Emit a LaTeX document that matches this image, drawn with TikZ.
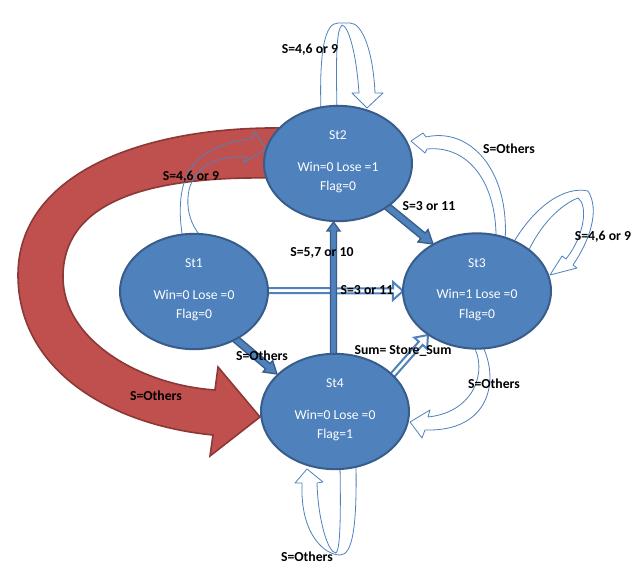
\documentclass[tikz,border=0pt]{standalone}
\usepackage{fontspec}
\setmainfont{Carlito}
\usetikzlibrary{shapes.geometric,calc}
\definecolor{blu}{HTML}{4F81BD}
\definecolor{bludk}{HTML}{385D8A}
\definecolor{redf}{HTML}{C0504D}
\definecolor{reddk}{HTML}{8C3836}
% block arrow: #1 start coord, #2 tip coord, #3 shaft half (px), #4 head half (px), #5 head length (px), #6 style
\newcommand\blockarr[6]{%
  \pgfmathsetlengthmacro\bsh{#3*0.75pt}%
  \pgfmathsetlengthmacro\bhh{#4*0.75pt}%
  \pgfmathsetlengthmacro\bhl{#5*0.75pt}%
  \coordinate (#1h) at ($(#2)!\bhl!(#1)$);
  \draw[#6] ($(#1)!\bsh!90:(#2)$) -- ($(#1h)!\bsh!90:(#2)$) -- ($(#1h)!\bhh!90:(#2)$)
     -- (#2) -- ($(#1h)!\bhh!-90:(#2)$) -- ($(#1h)!\bsh!-90:(#2)$) -- ($(#1)!\bsh!-90:(#2)$) -- cycle;
}
\begin{document}
\begin{tikzpicture}[x=0.75pt,y=-0.75pt,
  stn/.style={ellipse, draw=bludk, line width=1.5pt, fill=blu, minimum width=111pt, minimum height=86.5pt, inner sep=0pt},
  stt/.style={text=white, font=\fontsize{10.2}{12}\selectfont, inner sep=0pt, text height=7pt, text depth=2pt},
  lbl/.style={font=\fontsize{10.3}{12}\selectfont\bfseries, inner sep=0pt, text height=7pt, text depth=2pt},
  lp/.style={draw=blu, line width=0.6pt, line join=round},
  solidarr/.style={fill=blu, draw=bludk, line width=1pt, line join=miter},
  hollowarr/.style={fill=white, draw=blu, line width=1.5pt, line join=miter},
  bigred/.style={fill=redf, draw=reddk, line width=1.2pt, line join=miter}]
\fill[white] (0,0) rectangle (635,573);
\useasboundingbox (0,0) rectangle (635,573);

% big red curved arrow St2 -> St4
\draw[bigred] (285,128) .. controls (140,126) and (18,175) .. (18,275)
  .. controls (18,370) and (110,425) .. (213,435) -- (210,456) -- (260,417) -- (218,367) -- (215,390)
  .. controls (140,385) and (63,340) .. (63,277)
  .. controls (63,205) and (140,176) .. (272,178) -- cycle;

% self / curved hollow loops
% top of St2
\draw[lp] (321,112) .. controls (319,50) and (325,23) .. (338,23) -- (350,23)
  .. controls (362,23) and (373,50) .. (375,93) -- (383,93) -- (367,108) -- (352,93) -- (359,93)
  .. controls (356,50) and (348,26) .. (342,25) .. controls (336,30) and (336,60) .. (337,112);
% St1 -> St2
\draw[lp] (183,240) .. controls (177,205) and (180,175) .. (200,158)
  .. controls (215,146) and (235,140) .. (252,139) -- (255,132) -- (266,149) -- (243,163) -- (247,157)
  .. controls (220,155) and (195,165) .. (189,190) .. controls (184,215) and (195,240) .. (225,255);
% St3 -> St2
\draw[lp] (505,242) .. controls (510,170) and (470,127) .. (426,137) -- (423,133) -- (411,141) -- (425,153) -- (427,149)
  .. controls (470,145) and (497,185) .. (496,240);
% St3 self loop
\draw[lp] (512,245) .. controls (535,205) and (565,186) .. (588,191)
  .. controls (600,210) and (590,240) .. (573,265) -- (577,268) -- (550,275) -- (562,256) -- (566,259)
  .. controls (585,235) and (588,205) .. (578,198) .. controls (560,205) and (540,225) .. (527,254);
% St3 -> St4
\draw[lp] (482,345) .. controls (500,380) and (490,432) .. (425,430) -- (422,438) -- (410,422) -- (430,410) -- (428,417)
  .. controls (475,412) and (488,370) .. (473,345);
% St4 self loop
\draw[lp] (340,465) .. controls (341,520) and (340,550) .. (336,553) .. controls (328,553) and (318,520) .. (317,483)
  -- (323,482) -- (307,469) -- (295,483) -- (302,483)
  .. controls (300,535) and (325,555) .. (340,555) .. controls (352,555) and (357,530) .. (356,465);

% straight block arrows
\coordinate (a13s) at (262,290.5);
\coordinate (a13t) at (403,291);
\blockarr{a13s}{a13t}{2.5}{9}{10}{hollowarr}
\coordinate (a42s) at (333.5,362);
\coordinate (a42t) at (333.5,222);
\blockarr{a42s}{a42t}{3}{6.5}{9}{solidarr}
\coordinate (a14s) at (232,336);
\coordinate (a14t) at (277,374);
\blockarr{a14s}{a14t}{3.5}{7.5}{12}{solidarr}
\coordinate (a23s) at (383,203);
\coordinate (a23t) at (433,244);
\blockarr{a23s}{a23t}{3.5}{8}{13}{solidarr}
\coordinate (a43s) at (390,378);
\coordinate (a43t) at (428,335);
\blockarr{a43s}{a43t}{2.5}{8.5}{11}{hollowarr}

% states
\node[stn] (st1) at (194,291.5) {};
\node[stn] (st2) at (338,163.5) {};
\node[stn] (st3) at (477,291) {};
\node[stn] (st4) at (335,411.5) {};

\foreach \s/\n/\w/\f in {st1/St1/{Win=0 Lose =0}/{Flag=0},
                          st2/St2/{Win=0 Lose =1}/{Flag=0},
                          st3/St3/{Win=1 Lose =0}/{Flag=0},
                          st4/St4/{Win=0 Lose =0}/{Flag=1}}{
  \node[stt] (\s a) at ($(\s)+(0,-27)$) {\n};
  \node[stt] (\s b) at ($(\s)+(0,4.5)$) {\w};
  \node[stt] (\s c) at ($(\s)+(0,24)$) {\f};
}

% labels
\node[lbl] (l1) at (310,50) {S=4,6 or 9};
\node[lbl] (l2) at (191,177) {S=4,6 or 9};
\node[lbl] (l3) at (509,150) {S=Others};
\node[lbl] (l4) at (429,207) {S=3 or 11};
\node[lbl] (l5) at (603,237) {S=4,6 or 9};
\node[lbl] (l6) at (322,253) {S=5,7 or 10};
\node[lbl] (l7) at (367,291) {S=3 or 11};
\node[lbl] (l8) at (262,357) {S=Others};
\node[lbl] (l9) at (403,351) {Sum= Store\_Sum};
\node[lbl] (l10) at (494,385) {S=Others};
\node[lbl] (l11) at (156,397) {S=Others};
\node[lbl] (l12) at (307,558) {S=Others};
\end{tikzpicture}
\end{document}
